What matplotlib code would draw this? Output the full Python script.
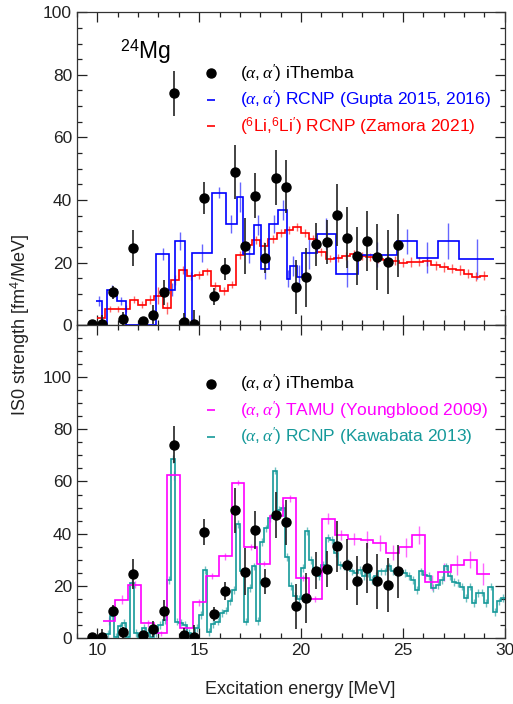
import numpy as np
import matplotlib
matplotlib.use("Agg")
import matplotlib.pyplot as plt
from matplotlib.lines import Line2D
from matplotlib.ticker import MultipleLocator

plt.rcParams["font.family"] = ["Liberation Sans", "DejaVu Sans"]
plt.rcParams["mathtext.fontset"] = "custom"
plt.rcParams["mathtext.rm"] = "Liberation Sans"
plt.rcParams["mathtext.it"] = "Liberation Serif:italic"
plt.rcParams["mathtext.sf"] = "Liberation Sans"
plt.rcParams["mathtext.bf"] = "Liberation Sans:bold"

# (alpha,alpha') iThemba, shown in both panels
ith_x = [9.75, 10.25, 10.75, 11.25, 11.75, 12.25, 12.75, 13.25, 13.75, 14.25, 14.75,
         15.25, 15.75, 16.25, 16.75, 17.25, 17.75, 18.25, 18.75, 19.25, 19.75, 20.25,
         20.75, 21.25, 21.75, 22.25, 22.75, 23.25, 23.75, 24.25, 24.75]
ith_y = [0.3, 0.3, 10.5, 2.1, 24.6, 1.3, 3.4, 10.5, 74.1, 1.0, 0.3,
         40.7, 9.2, 18.0, 48.9, 25.3, 41.4, 21.5, 47.2, 44.3, 12.1, 15.3,
         25.8, 26.5, 35.2, 28.0, 22.0, 26.9, 21.7, 20.3, 25.5]
ith_err = [1.0, 3.0, 2.0, 2.0, 5.7, 1.0, 3.0, 4.0, 7.2, 3.0, 4.5,
           5.0, 2.7, 3.5, 8.6, 9.0, 7.2, 4.8, 8.9, 8.5, 8.6, 9.5,
           7.0, 7.0, 9.8, 9.8, 9.3, 9.5, 10.5, 10.2, 10.0]

# (alpha,alpha') RCNP, Gupta 2015, 2016
gup_edges = [9.95, 10.23, 10.47, 10.96, 11.39, 12.89, 13.53, 13.79, 14.31, 14.64, 15.62,
             16.32, 16.85, 17.17, 17.70, 18.04, 18.45, 18.89, 19.30, 19.46, 19.79, 20.03,
             20.77, 21.70, 22.78, 24.72, 25.67, 26.70, 27.75, 29.48]
gup_val = [7.8, 0, 11.4, 7.8, 0, 22.7, 11.4, 26.9, 0, 23.2, 42.4,
           32.3, 40.9, 22.7, 31.9, 18.1, 32.3, 36.7, 14.9, 18.8, 15.4,
           23.1, 29.3, 16.5, 22.6, 26.9, 21.6, 26.9, 21.1]
gup_err = [1.5, 0, 1.3, 1.3, 0, 1.9, 2.0, 3.0, 0, 2.9, 1.8,
           2.9, 4.8, 2.7, 3.2, 3.2, 2.9, 3.2, 2.7, 3.2, 4.0,
           5.0, 5.0, 4.3, 4.0, 4.0, 5.0, 5.7, 6.4]

# (6Li,6Li') RCNP, Zamora 2021 (0.4 MeV bins from 10.0 MeV)
zam_start, zam_width = 10.0, 0.4
zam_val = [2.4, 5.3, 5.3, 5.3, 8.2, 6.6, 8.2, 9.5, 5.5, 14.4,
           17.6, 15.8, 16.0, 17.2, 12.5, 11.0, 13.0, 22.4, 25.5, 27.2,
           25.3, 27.5, 29.5, 30.4, 31.4, 29.5, 27.5, 23.4, 21.3, 21.5,
           22.2, 22.7, 22.2, 21.8, 21.2, 21.0, 20.6, 20.0, 20.2, 20.3,
           20.4, 19.1, 18.6, 18.1, 17.6, 16.5, 15.5, 15.8]
zam_err = [1.0, 1.0, 1.0, 1.2, 1.2, 1.2, 1.5, 2.7, 2.0, 1.5,
           1.2, 1.2, 1.2, 1.2, 1.2, 1.2, 1.2, 1.2, 1.2, 1.2,
           1.2, 1.2, 1.2, 1.2, 1.2, 1.2, 1.2, 1.2, 1.2, 1.2,
           1.2, 1.2, 1.2, 1.2, 1.2, 1.2, 1.5, 1.5, 1.5, 1.5,
           1.5, 1.5, 1.5, 1.5, 1.5, 1.5, 1.5, 1.5]

# (alpha,alpha') TAMU, Youngblood 2009 (~0.633 MeV bins)
you_edges = [10.26, 10.89, 11.53, 12.16, 12.79, 13.43, 14.06, 14.69, 15.32, 15.96,
             16.59, 17.22, 17.86, 18.49, 19.12, 19.76, 20.39, 21.02, 21.65, 22.29,
             22.92, 23.55, 24.19, 24.82, 25.45, 26.09, 26.72, 27.35, 27.99, 28.62, 29.25]
you_val = [6.5, 14.6, 20.4, 5.6, 1.8, 62.3, 3.7, 13.6, 23.8, 31.3,
           59.5, 34.9, 28.5, 46.7, 53.5, 23.0, 14.9, 45.8, 39.6, 38.0,
           37.7, 36.4, 32.6, 34.7, 39.6, 21.4, 25.3, 28.1, 30.0, 24.6]
you_err = [1.6, 1.7, 1.3, 1.3, 1.0, 1.6, 1.0, 1.3, 1.2, 1.3,
           1.0, 1.1, 1.0, 1.2, 1.4, 1.1, 1.1, 2.2, 1.9, 2.2,
           3.2, 2.9, 2.9, 3.8, 3.5, 2.9, 3.5, 3.8, 3.2, 4.2]

# (alpha,alpha') RCNP, Kawabata 2013 (0.2 MeV bins from 10.2 MeV)
kaw_start, kaw_width = 10.2, 0.2
kaw_val = [0.5, 1.5, 8.5, 0.3, 4.4, 5.9, 0.3, 21.0, 1.8, 0.3,
           3.7, 1.8, 0.5, 1.8, 5.0, 7.0, 22.3, 68.5, 6.3, 5.9,
           5.0, 1.8, 0.3, 3.7, 8.8, 26.2, 2.4, 5.4, 6.3, 9.5,
           10.5, 14.0, 18.5, 43.8, 25.5, 6.3, 19.2, 27.4, 6.5, 36.7,
           42.0, 46.0, 64.2, 49.0, 50.0, 31.0, 20.0, 16.0, 15.0, 26.8,
           41.0, 30.0, 25.0, 23.6, 28.0, 38.3, 37.7, 32.6, 28.0, 27.4,
           28.7, 25.5, 24.9, 26.2, 23.6, 24.9, 22.3, 23.6, 25.5, 25.5,
           27.4, 25.5, 24.9, 25.5, 24.9, 23.6, 22.3, 18.5, 25.5, 24.2,
           23.6, 19.0, 20.4, 22.3, 27.4, 23.6, 21.6, 21.0, 19.7, 15.3,
           19.7, 13.3, 17.2, 17.4, 13.3, 19.7, 10.1, 14.0, 15.3]
kaw_err = 1.5

c_blue, c_red, c_mag, c_teal = "#0000ff", "#ff0000", "#ff00ff", "#15999a"
fs = 12.5


def draw_hist(ax, edges, vals, errs, color):
    edges = np.asarray(edges)
    centers = 0.5 * (edges[:-1] + edges[1:])
    ax.errorbar(centers, vals, yerr=errs, fmt="none", ecolor=color,
                elinewidth=1.0, capsize=0, alpha=0.6, zorder=2)
    ax.stairs(vals, edges, baseline=None, color=color, lw=1.2, zorder=3)


def draw_ithemba(ax):
    ax.errorbar(ith_x, ith_y, yerr=ith_err, fmt="o", color="black", ms=6.5,
                ecolor="#222222", elinewidth=1.2, capsize=0, zorder=5)


def style(ax, ymax):
    ax.set_xlim(9, 30)
    ax.set_ylim(0, ymax)
    ax.xaxis.set_major_locator(MultipleLocator(5))
    ax.xaxis.set_minor_locator(MultipleLocator(1))
    ax.yaxis.set_major_locator(MultipleLocator(20))
    ax.yaxis.set_minor_locator(MultipleLocator(5))
    ax.tick_params(which="both", direction="in", top=True, right=True,
                   labelsize=fs, colors="#222222", width=0.9)
    ax.tick_params(which="major", length=7)
    ax.tick_params(which="minor", length=3.5)
    for s in ax.spines.values():
        s.set_linewidth(0.9)
        s.set_color("#333333")


fig = plt.figure(figsize=(5.13, 7.04), dpi=100)
ax1 = fig.add_axes([0.150, 0.538, 0.834, 0.4446])
ax2 = fig.add_axes([0.150, 0.0938, 0.834, 0.4446])

# top panel
zam_edges = zam_start + zam_width * np.arange(len(zam_val) + 1)
draw_hist(ax1, zam_edges, zam_val, zam_err, c_red)
draw_hist(ax1, gup_edges, gup_val, gup_err, c_blue)
draw_ithemba(ax1)
style(ax1, 100)
ax1.tick_params(labelbottom=False)
ax1.text(0.10, 0.852, "$^{24}$Mg", transform=ax1.transAxes, fontsize=16.5,
         ha="left", va="baseline")

# bottom panel
kaw_edges = kaw_start + kaw_width * np.arange(len(kaw_val) + 1)
draw_hist(ax2, kaw_edges, kaw_val, kaw_err, c_teal)
draw_hist(ax2, you_edges, you_val, you_err, c_mag)
draw_ithemba(ax2)
style(ax2, 120)
ax2.set_yticks(range(0, 121, 20), ["0", "20", "40", "60", "80", "100", ""])

ab = r"$(\alpha,\alpha^{\prime})$"


def legend(ax, entries, y0):
    handles = [Line2D([], [], ls="none", marker="o", color="black", ms=6.5)]
    for col in entries[1:]:
        handles.append(Line2D([], [], ls="none", marker="_", color=col[1],
                              ms=6, mew=1.2))
    leg = ax.legend(handles, [e[0] for e in entries], loc="upper left",
                    bbox_to_anchor=(0.265, y0), frameon=False, fontsize=fs,
                    handlelength=1.0, handletextpad=1.15, labelspacing=0.25,
                    borderpad=0.2)
    for t, e in zip(leg.get_texts(), entries):
        t.set_color(e[1])


legend(ax1, [(ab + " iThemba", "black"),
             (ab + " RCNP (Gupta 2015, 2016)", c_blue),
             ("($^{6}$Li,$^{6}$Li$^{\\prime}$) RCNP (Zamora 2021)", c_red)], 0.878)
legend(ax2, [(ab + " iThemba", "black"),
             (ab + " TAMU (Youngblood 2009)", c_mag),
             (ab + " RCNP (Kawabata 2013)", c_teal)], 0.885)

fig.text(0.040, 0.538, "IS0 strength [fm$^{4}$/MeV]", rotation=90,
         ha="center", va="center", fontsize=13, color="#222222")
fig.text(0.585, 0.02, "Excitation energy [MeV]", ha="center", va="center",
         fontsize=13, color="#222222")

fig.savefig("out.png", dpi=100)
